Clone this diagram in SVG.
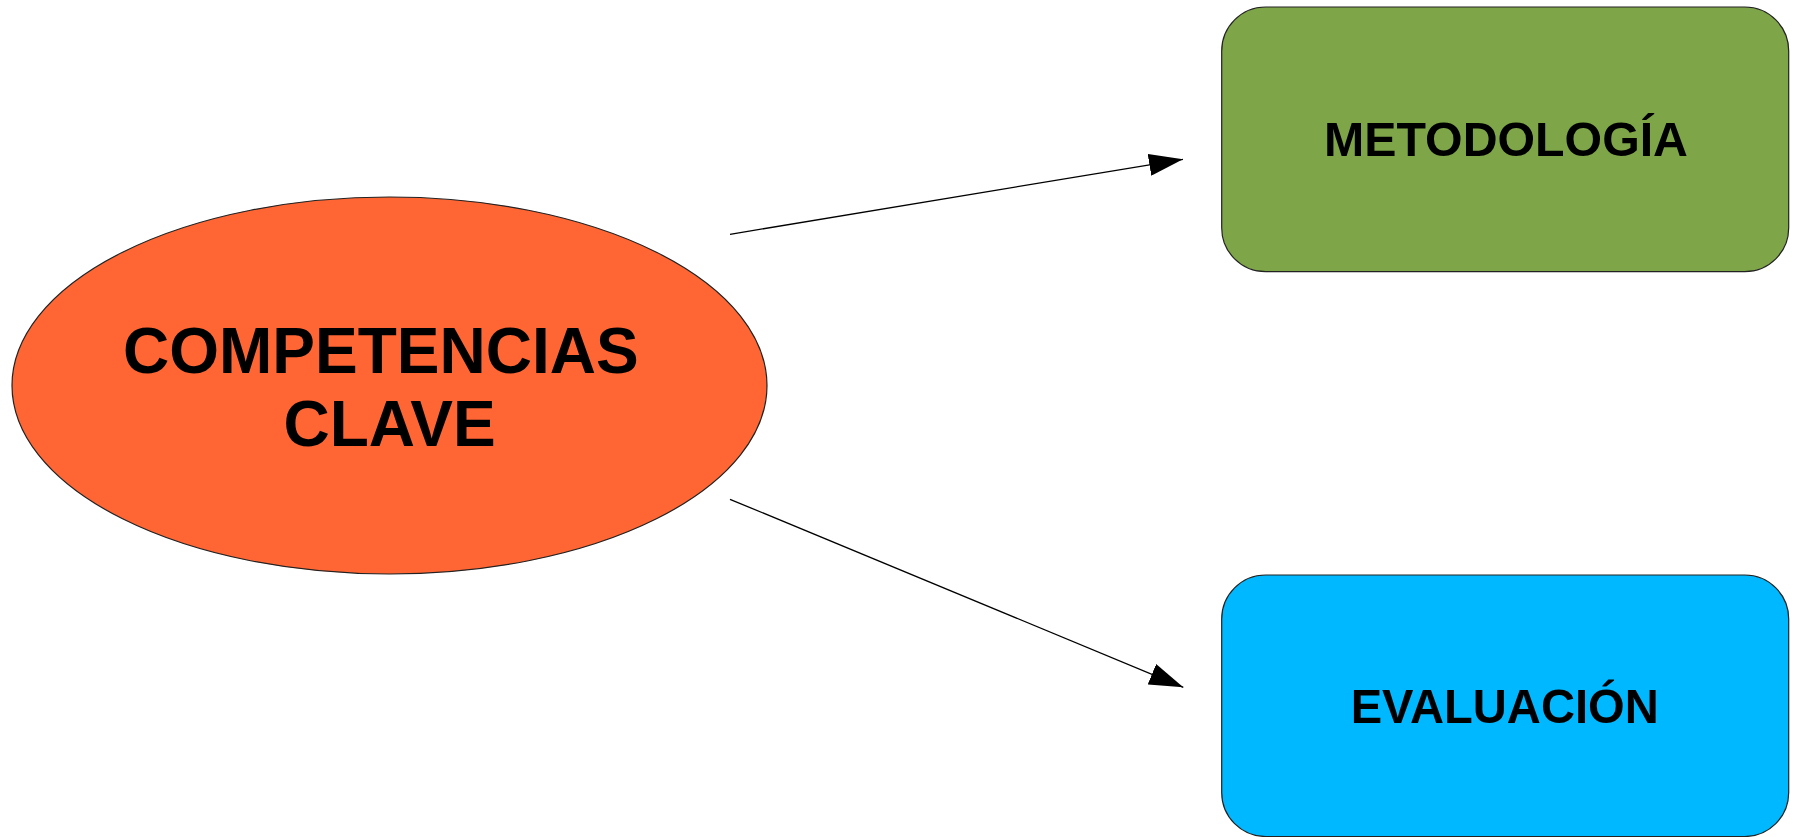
<svg xmlns="http://www.w3.org/2000/svg" width="1793" height="837" viewBox="0 0 1793 837">
<defs>
<style>
.shape{stroke:#222;stroke-width:1.2}
.lbl{font-family:"Liberation Sans",Arial,sans-serif;font-weight:bold;fill:#000}
.conn{stroke:#000;stroke-width:1.3;fill:none}
</style>
<marker id="ah" viewBox="0 0 34 22" refX="34" refY="11" markerWidth="34" markerHeight="22" markerUnits="userSpaceOnUse" orient="auto">
<path d="M0,0 L34,11 L0,22 Z" fill="#000"/>
</marker>
</defs>
<rect width="1793" height="837" fill="#fff"/>
<g id="competencias">
<ellipse class="shape" cx="389.5" cy="385.5" rx="377.5" ry="188.5" fill="#ff6633"/>
<text class="lbl" x="123" y="372.7" font-size="64">COMPETENCIAS</text>
<text class="lbl" x="389.5" y="446.3" font-size="64" text-anchor="middle">CLAVE</text>
</g>
<g id="metodologia">
<rect class="shape" x="1221.7" y="7" width="567" height="264.7" rx="44" ry="44" fill="#7ea648"/>
<text class="lbl" x="1506" y="156" font-size="49" text-anchor="middle" textLength="364" lengthAdjust="spacingAndGlyphs">METODOLOGÍA</text>
</g>
<g id="evaluacion">
<rect class="shape" x="1221.7" y="575" width="567" height="261.5" rx="44" ry="44" fill="#00b8ff"/>
<text class="lbl" x="1504.7" y="723" font-size="49" text-anchor="middle" textLength="308" lengthAdjust="spacingAndGlyphs">EVALUACIÓN</text>
</g>
<g id="connectors">
<line class="conn" x1="730" y1="234.3" x2="1183" y2="159.3" marker-end="url(#ah)"/>
<line class="conn" x1="730" y1="499.3" x2="1183.3" y2="687.3" marker-end="url(#ah)"/>
</g>
</svg>
